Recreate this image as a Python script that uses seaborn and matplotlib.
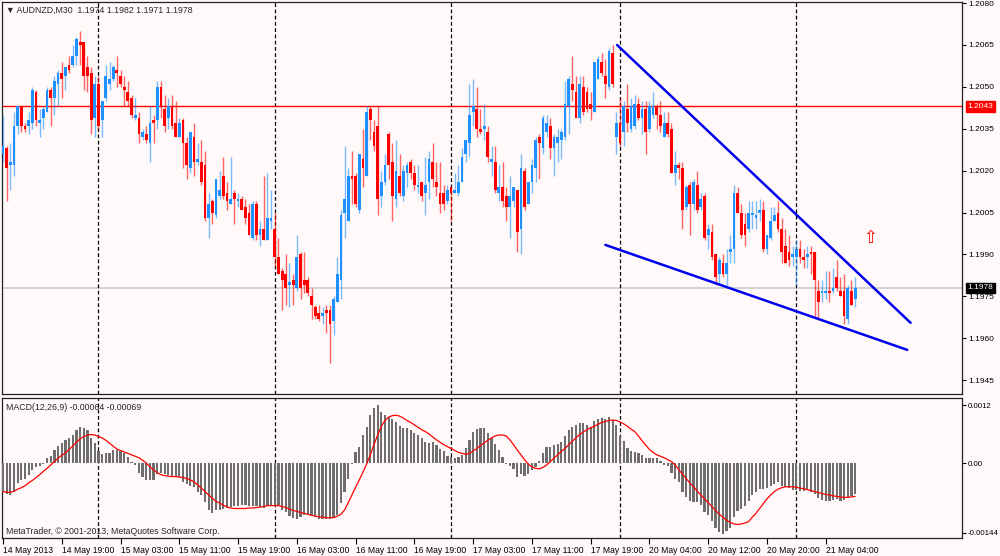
import numpy as np
import pandas as pd
import matplotlib
matplotlib.use("Agg")
import matplotlib.pyplot as plt
import matplotlib.transforms as mtransforms
import seaborn as sns

sns.set_theme(style="white")
plt.rcParams['font.family'] = ['Liberation Sans', 'DejaVu Sans']

# AUDNZD M30 candles, in pips above 1.1900
BASE = 1.19
PIP = 0.0001

open_pips = [
    126, 128, 122, 122, 136, 143, 136, 136, 137, 148,
    137, 139, 141, 149, 146, 151, 155, 154, 158, 158,
    161, 166, 166, 157, 155, 139, 151, 138, 146, 151,
    153, 156, 154, 150, 148, 146, 139, 139, 132, 133,
    130, 138, 138, 150, 142, 139, 143, 137, 132, 138,
    130, 121, 132, 123, 123, 122, 103, 109, 104, 111,
    118, 112, 108, 112, 109, 110, 107, 105, 96, 108,
    97, 99, 95, 102, 99, 89, 84, 83, 79, 81,
    78, 90, 81, 81, 75, 71, 69, 68, 70, 70,
    66, 73, 81, 105, 102, 118, 118, 106, 124, 118,
    142, 134, 136, 111, 116, 133, 123, 110, 118, 111,
    119, 123, 119, 114, 116, 112, 116, 123, 116, 112,
    112, 109, 114, 112, 112, 116, 126, 130, 141, 142,
    135, 135, 134, 123, 123, 112, 114, 111, 107, 109,
    113, 99, 120, 108, 116, 121, 132, 128, 134, 136,
    128, 130, 131, 132, 143, 151, 148, 139, 150, 148,
    144, 141, 153, 159, 154, 150, 162, 132, 137, 134,
    142, 135, 136, 144, 139, 142, 135, 140, 143, 140,
    132, 137, 135, 119, 122, 121, 107, 115, 108, 115,
    107, 111, 97, 98, 90, 83, 87, 83, 91, 92,
    112, 105, 101, 99, 104, 103, 105, 106, 92, 96,
    102, 105, 99, 93, 91, 89, 89, 92, 89, 89,
    91, 91, 77, 76, 76, 77, 77, 82, 77, 77,
    67, 77, 74,
]
high_pips = [
    140, 129, 130, 141, 143, 143, 137, 141, 150, 149,
    142, 143, 150, 150, 154, 156, 159, 157, 161, 165,
    168, 170, 166, 161, 157, 154, 154, 145, 158, 159,
    158, 161, 156, 154, 152, 147, 146, 141, 135, 136,
    143, 140, 152, 152, 147, 146, 147, 145, 139, 139,
    132, 134, 137, 130, 131, 127, 112, 110, 117, 120,
    125, 116, 125, 113, 112, 111, 110, 108, 109, 109,
    102, 118, 119, 113, 105, 96, 85, 90, 87, 83,
    97, 91, 91, 82, 78, 72, 72, 71, 72, 72,
    75, 89, 106, 129, 121, 127, 119, 126, 135, 143,
    143, 138, 143, 120, 126, 134, 130, 131, 126, 122,
    123, 124, 122, 122, 116, 125, 127, 130, 123, 123,
    115, 115, 114, 119, 122, 128, 131, 151, 153, 150,
    142, 144, 136, 129, 129, 122, 123, 114, 118, 114,
    113, 126, 121, 116, 124, 132, 133, 140, 140, 139,
    133, 135, 135, 152, 154, 161, 154, 154, 154, 150,
    148, 159, 161, 162, 160, 164, 165, 141, 146, 145,
    151, 146, 147, 146, 145, 145, 145, 148, 144, 145,
    141, 141, 137, 127, 123, 123, 115, 116, 117, 120,
    112, 112, 101, 101, 90, 89, 90, 92, 97, 115,
    114, 108, 105, 109, 109, 109, 110, 109, 97, 107,
    107, 109, 103, 99, 97, 93, 95, 95, 92, 93,
    93, 91, 81, 81, 84, 84, 85, 88, 82, 83,
    79, 81, 82,
]
low_pips = [
    123, 109, 113, 118, 133, 134, 134, 133, 135, 136,
    132, 135, 141, 136, 140, 143, 146, 149, 155, 157,
    158, 158, 149, 148, 133, 132, 135, 132, 145, 149,
    152, 150, 150, 143, 143, 139, 138, 130, 131, 130,
    123, 130, 135, 139, 134, 135, 135, 132, 132, 121,
    117, 119, 118, 122, 115, 102, 96, 101, 103, 110,
    110, 106, 108, 101, 107, 106, 101, 97, 95, 95,
    93, 95, 95, 99, 86, 83, 70, 72, 71, 72,
    77, 74, 76, 75, 67, 67, 66, 65, 62, 51,
    61, 73, 74, 96, 102, 108, 107, 105, 114, 118,
    131, 127, 104, 107, 115, 117, 102, 107, 111, 109,
    114, 117, 113, 112, 109, 104, 110, 114, 111, 105,
    106, 108, 102, 112, 111, 116, 123, 125, 136, 132,
    133, 131, 123, 118, 112, 109, 107, 102, 96, 107,
    91, 90, 106, 108, 112, 116, 117, 126, 132, 124,
    118, 123, 124, 131, 133, 145, 139, 137, 140, 141,
    138, 141, 153, 154, 146, 149, 150, 126, 129, 129,
    134, 134, 135, 138, 133, 126, 134, 139, 135, 134,
    132, 132, 119, 115, 117, 99, 106, 97, 106, 105,
    106, 95, 92, 88, 79, 79, 82, 79, 87, 87,
    105, 96, 93, 98, 99, 99, 102, 91, 90, 95,
    102, 98, 87, 87, 86, 86, 79, 87, 85, 85,
    83, 68, 67, 73, 74, 73, 76, 77, 75, 65,
    65, 72, 71,
]
close_pips = [
    129, 121, 123, 136, 143, 136, 135, 138, 149, 138,
    138, 142, 149, 146, 152, 155, 153, 157, 156, 161,
    167, 165, 154, 154, 138, 151, 136, 145, 154, 153,
    157, 155, 151, 149, 145, 140, 140, 133, 134, 131,
    137, 137, 150, 143, 136, 143, 136, 132, 137, 130,
    122, 134, 123, 124, 116, 103, 108, 105, 117, 113,
    111, 109, 110, 110, 110, 106, 103, 97, 108, 97,
    99, 95, 103, 103, 89, 83, 81, 78, 80, 79,
    89, 78, 79, 76, 72, 68, 67, 69, 69, 65,
    74, 83, 104, 110, 118, 117, 108, 126, 121, 141,
    138, 129, 110, 116, 122, 122, 111, 120, 112, 120,
    122, 119, 115, 115, 111, 115, 124, 117, 114, 108,
    108, 113, 112, 113, 116, 125, 131, 140, 143, 135,
    134, 136, 125, 124, 113, 114, 109, 107, 111, 114,
    98, 121, 107, 116, 122, 131, 130, 139, 137, 128,
    132, 132, 134, 144, 153, 149, 139, 151, 141, 142,
    142, 159, 160, 155, 151, 163, 151, 137, 130, 143,
    137, 143, 144, 139, 142, 134, 143, 143, 140, 136,
    137, 133, 119, 122, 121, 106, 114, 108, 116, 106,
    110, 96, 99, 89, 82, 88, 83, 87, 92, 112,
    105, 97, 97, 105, 105, 104, 106, 92, 97, 102,
    104, 99, 91, 87, 88, 90, 92, 89, 88, 90,
    90, 81, 73, 77, 77, 76, 78, 78, 75, 68,
    78, 72, 78,
]

# MACD(12,26,9), units of 0.00001
macd_main = [
    -59, -63, -66, -59, -42, -35, -32, -25, -14, -8,
    -6, -2, 10, 14, 27, 36, 42, 48, 52, 58,
    68, 75, 72, 68, 51, 41, 25, 18, 20, 21,
    27, 27, 25, 20, 13, 3, -4, -21, -28, -35,
    -35, -35, -23, -21, -23, -25, -26, -27, -28, -40,
    -44, -47, -49, -59, -66, -80, -97, -103, -97, -97,
    -95, -92, -90, -88, -88, -87, -87, -88, -89, -89,
    -91, -92, -89, -87, -87, -87, -97, -102, -109, -113,
    -115, -111, -108, -106, -108, -109, -115, -116, -116, -115,
    -113, -108, -83, -59, -32, -1, 23, 34, 58, 75,
    99, 113, 120, 106, 99, 96, 92, 84, 77, 72,
    72, 68, 63, 59, 52, 44, 41, 43, 37, 29,
    25, 14, 13, 11, 12, 17, 32, 48, 65, 70,
    72, 72, 63, 52, 39, 27, 13, -1, -6, -12,
    -28, -23, -26, -23, -14, -8, 4, 20, 34, 34,
    37, 39, 44, 55, 68, 75, 79, 83, 83, 79,
    75, 86, 92, 94, 92, 96, 89, 79, 55, 46,
    32, 25, 23, 20, 17, 10, 10, 10, 10, 4,
    -4, -6, -21, -32, -40, -59, -70, -79, -80, -80,
    -87, -101, -108, -120, -134, -142, -146, -141, -135, -111,
    -99, -94, -88, -79, -66, -59, -54, -54, -51, -47,
    -44, -40, -47, -49, -52, -56, -56, -58, -58, -56,
    -59, -65, -73, -76, -79, -79, -76, -74, -78, -76,
    -72, -68, -64,
]
macd_signal = [
    -59, -60, -61, -58, -54, -51, -47, -41, -36, -30,
    -24, -17, -11, -4, 3, 10, 16, 21, 28, 35,
    43, 50, 55, 58, 59, 58, 55, 52, 47, 41,
    35, 29, 26, 23, 20, 17, 14, 11, 6, 0,
    -8, -14, -20, -24, -26, -27, -28, -28, -29, -30,
    -32, -35, -39, -45, -52, -59, -66, -73, -79, -83,
    -87, -91, -93, -94, -94, -94, -94, -93, -93, -92,
    -91, -90, -88, -88, -88, -88, -90, -92, -95, -98,
    -100, -102, -104, -106, -108, -110, -111, -112, -113, -113,
    -113, -110, -106, -97, -82, -66, -50, -35, -19, -2,
    17, 38, 58, 76, 88, 95, 98, 99, 97, 93,
    88, 84, 79, 74, 69, 65, 60, 54, 48, 43,
    38, 34, 30, 26, 22, 20, 18, 20, 25, 30,
    36, 42, 47, 52, 56, 58, 58, 56, 48, 38,
    27, 17, 7, -2, -8, -11, -12, -9, -4, 3,
    10, 17, 24, 30, 38, 45, 52, 59, 64, 69,
    73, 76, 80, 84, 86, 88, 89, 88, 85, 81,
    76, 70, 65, 56, 46, 37, 28, 22, 17, 14,
    11, 7, 3, -4, -14, -23, -32, -41, -49, -58,
    -66, -74, -82, -90, -98, -106, -112, -118, -123, -126,
    -127, -126, -124, -121, -112, -104, -94, -84, -74, -66,
    -59, -54, -51, -49, -49, -49, -50, -52, -53, -55,
    -57, -59, -61, -63, -65, -66, -68, -69, -70, -71,
    -71, -70, -69,
]

tick_bars = [0, 16, 32, 48, 64, 80, 96, 112, 128, 144, 160, 176, 192, 208, 224]
tick_labels = ["14 May 2013", "14 May 19:00", "15 May 03:00", "15 May 11:00",
               "15 May 19:00", "16 May 03:00", "16 May 11:00", "16 May 19:00",
               "17 May 03:00", "17 May 11:00", "17 May 19:00", "20 May 04:00",
               "20 May 12:00", "20 May 20:00", "21 May 04:00"]
day_starts = [26, 74, 122, 168, 216]

price_ticks = [1.2080, 1.2065, 1.2050, 1.2035, 1.2020, 1.2005, 1.1990, 1.1975, 1.1960, 1.1945]
macd_ticks = [0.0012, 0.0, -0.00144]
macd_tick_labels = ["0.0012", "0.00", "-0.00144"]

level_price = 1.2043
bid_price = 1.1978
upper_trend_bar = [167.2, 247.1]
upper_trend_price = [1.2065, 1.19655]
lower_trend_bar = [164.0, 246.2]
lower_trend_price = [1.19934, 1.19558]
arrow_bar, arrow_price = 236.2, 1.1996

BG = "#FFFAF9"
UP = "#1E90FF"
DOWN = "#FF0000"

o = BASE + np.array(open_pips) * PIP
h = BASE + np.array(high_pips) * PIP
l = BASE + np.array(low_pips) * PIP
c = BASE + np.array(close_pips) * PIP
n = len(o)
df = pd.DataFrame({"bar": np.arange(n), "open": o, "high": h, "low": l, "close": c,
                   "macd": np.array(macd_main) * 1e-5, "signal": np.array(macd_signal) * 1e-5})
df["color"] = np.where(df["close"] >= df["open"], UP, DOWN)

fig = plt.figure(figsize=(10, 5.56), dpi=100, facecolor=BG)
ax = fig.add_axes([0.002, 1 - 394 / 556, 0.960, 392 / 556], facecolor=BG)
ax2 = fig.add_axes([0.002, 1 - 538 / 556, 0.960, 140 / 556], facecolor=BG)

xmin = -0.27
xmax = xmin + 960 / 3.673

# candles
ax.vlines(df["bar"], df["low"], df["high"], colors=df["color"], lw=1.0, alpha=0.6, zorder=3)
body = np.maximum((df["close"] - df["open"]).abs(), 0.00004)
ax.bar(df["bar"], body, bottom=np.minimum(df["open"], df["close"]), width=0.75,
       color=df["color"], linewidth=0, zorder=4)

ax.axhline(level_price, color="red", lw=1.0, zorder=2)
ax.axhline(bid_price, color="#cfcfcf", lw=1.3, zorder=1)
ax.plot(upper_trend_bar, upper_trend_price, color="#0000EE", lw=1.8, zorder=5)
ax.plot(lower_trend_bar, lower_trend_price, color="#0000EE", lw=1.8, zorder=5)
ax.text(arrow_bar, arrow_price, "\u21e7", color="red", fontsize=12, ha="center", va="center",
        family=["DejaVu Sans"], zorder=6)

for d in day_starts:
    ax.axvline(d, color="black", lw=0.9, ls=(0, (3, 2)), zorder=1)
    ax2.axvline(d, color="black", lw=0.9, ls=(0, (3, 2)), zorder=1)

ax.set_xlim(xmin, xmax)
ax.set_ylim(1.19400, 1.20804)
ax.set_xticks([])
ax.yaxis.tick_right()
ax.set_yticks(price_ticks)
ax.set_yticklabels(["%.4f" % p for p in price_ticks])

# MACD panel
ax2.bar(df["bar"], df["macd"], width=0.6, color="#6e6e6e", linewidth=0, zorder=3)
sns.lineplot(data=df, x="bar", y="signal", ax=ax2, color="red", lw=0.9, zorder=4)
ax2.set_xlim(xmin, xmax)
ax2.set_ylim(-0.00155, 0.001345)
ax2.yaxis.tick_right()
ax2.set_yticks(macd_ticks)
ax2.set_yticklabels(macd_tick_labels)
ax2.set_xticks(tick_bars)
ax2.set_xticklabels(tick_labels, ha="left")
ax2.set_xlabel("")
ax2.set_ylabel("")

for a in (ax, ax2):
    for s in a.spines.values():
        s.set_color("#222222")
        s.set_linewidth(0.9)
    a.tick_params(axis="y", right=True, direction="out", length=3, width=0.8,
                  labelsize=6.0, pad=1.5, colors="black")
    a.tick_params(axis="x", bottom=True, direction="out", length=4, width=0.8,
                  labelsize=6.2, pad=2, colors="black")
ax2.tick_params(axis="y", labelsize=5.7, pad=1.2)

# price tags on the right scale
tr = mtransforms.blended_transform_factory(ax.transAxes, ax.transData)
ax.text(1.006, level_price, "1.2043", transform=tr, fontsize=6.0, color="white",
        ha="left", va="center", zorder=10,
        bbox=dict(boxstyle="square,pad=0.22", fc="red", ec="red"))
ax.text(1.006, bid_price, "1.1978", transform=tr, fontsize=6.0, color="white",
        ha="left", va="center", zorder=10,
        bbox=dict(boxstyle="square,pad=0.22", fc="black", ec="black"))

fig.text(0.006, 1 - 10 / 556, "\u25bc AUDNZD,M30  1.1974 1.1982 1.1971 1.1978",
         fontsize=6.3, va="center", ha="left")
fig.text(0.006, 1 - 407 / 556, "MACD(12,26,9) -0.00064 -0.00069",
         fontsize=6.3, va="center", ha="left")
fig.text(0.006, 1 - 531 / 556, "MetaTrader, \u00a9 2001-2013, MetaQuotes Software Corp.",
         fontsize=6.3, va="center", ha="left")

fig.savefig("out.png", dpi=100, facecolor=BG)
